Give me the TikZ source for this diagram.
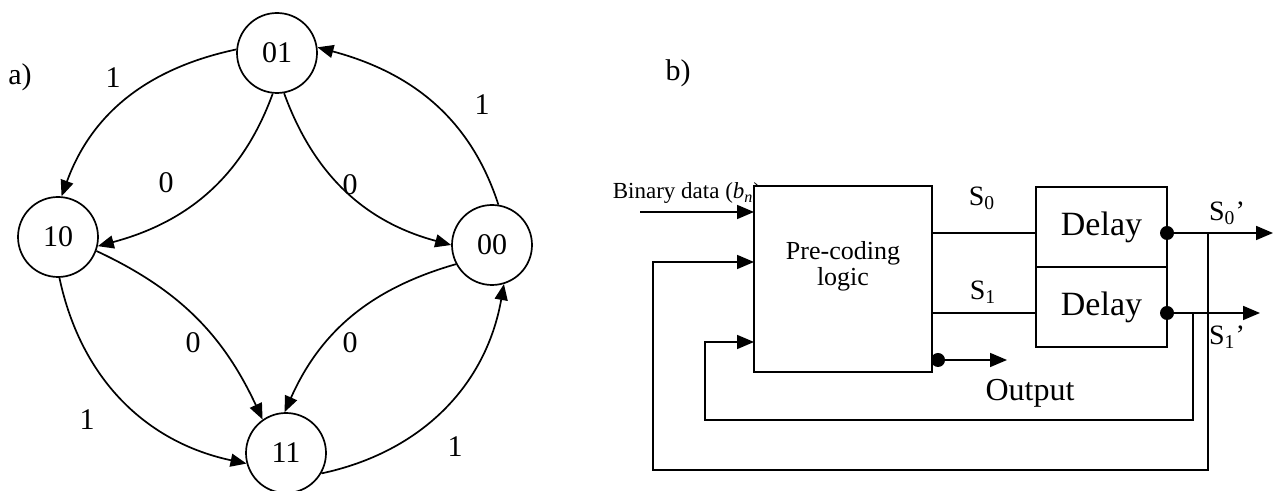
\documentclass[tikz,border=0pt]{standalone}
\usepackage{fontspec}
\setmainfont{Liberation Serif}
\usepackage{tikz}
\usetikzlibrary{arrows.meta, positioning, calc}

\begin{document}
\begin{tikzpicture}[x=0.5pt, y=0.5pt, line width=0.85pt,
  state/.style={draw, circle, minimum size=40pt, inner sep=0pt, font=\fontsize{15}{18}\selectfont},
  edgelbl/.style={font=\fontsize{15}{18}\selectfont},
  tri/.style={-{Triangle[length=8pt, width=6.5pt]}},
  bigtri/.style={-{Triangle[length=8.5pt, width=7pt]}},
  block/.style={draw, fill=white, outer sep=0pt, inner sep=0pt},
  sig/.style={font=\fontsize{14}{16}\selectfont}]
  \useasboundingbox (0,0) rectangle (1278,491);

  % a) state diagram
  \node[edgelbl] (alabel) at (20,414) {a)};
  \node[state] (s01) at (277,438) {01};
  \node[state] (s10) at (58,254) {10};
  \node[state] (s00) at (492,246) {00};
  \node[state] (s11) at (286,38) {11};

  \draw[tri] (s01.175) to[out=192, in=70] (s10.85);
  \draw[tri] (s01.264) to[out=250, in=15] (s10.347);
  \draw[tri] (s01.280) to[out=290, in=165] (s00.180);
  \draw[tri] (s00.81) to[out=108, in=-15] (s01.8);
  \draw[tri] (s10.340) to[out=-25, in=115] (s11.125);
  \draw[tri] (s00.208) to[out=196, in=66] (s11.92);
  \draw[tri] (s10.272) to[out=282, in=168] (s11.195);
  \draw[tri] (s11.330) to[out=12, in=260] (s00.287);

  \node[edgelbl] (e1) at (113,413) {1};
  \node[edgelbl] (e2) at (166,308) {0};
  \node[edgelbl] (e3) at (350,306) {0};
  \node[edgelbl] (e4) at (482,386) {1};
  \node[edgelbl] (e5) at (193,148) {0};
  \node[edgelbl] (e6) at (350,148) {0};
  \node[edgelbl] (e7) at (87,71) {1};
  \node[edgelbl] (e8) at (455,44) {1};

  % b) block diagram
  \node[edgelbl] (blabel) at (678,418) {b)};
  \node[font=\fontsize{11.5}{13}\selectfont, anchor=west, inner sep=0pt] (bin) at (612,298) {Binary data (\textit{b}\textsubscript{\textit{n}})};
  \node[block, minimum width=89pt, minimum height=93pt] (precode) at (843,212) {};
  \node[font=\fontsize{13}{13}\selectfont, align=center] (precodetxt) at (843,225) {Pre-coding\\logic};

  \node[block, minimum width=65.5pt, minimum height=40pt, font=\fontsize{17}{20}\selectfont] (delay0) at (1101.5,264) {Delay};
  \node[block, minimum width=65.5pt, minimum height=40pt, font=\fontsize{17}{20}\selectfont, below=0pt of delay0] (delay1) {Delay};

  \coordinate (d0out) at ([yshift=-3pt]delay0.east);
  \coordinate (d1out) at ([yshift=-3pt]delay1.east);
  \coordinate (bintail) at (640,279);
  \coordinate (s0tip) at (1273,258);
  \coordinate (s1tip) at (1260,178);
  \coordinate (fb0) at (1208,21);
  \coordinate (fb0l) at (653,229);
  \coordinate (fb1) at (1193,71);
  \coordinate (fb1l) at (705,149);
  \coordinate (outdot) at (938,131);
  \coordinate (outtip) at (1007,131);

  \draw[bigtri] (bintail) -- (precode.west |- bintail);
  \draw (precode.east |- d0out) -- (delay0.west |- d0out);
  \draw (precode.east |- d1out) -- (delay1.west |- d1out);

  % outputs and feedback
  \draw[bigtri] (d0out) -- (s0tip);
  \draw[bigtri] (d1out) -- (s1tip);
  \draw[bigtri] (d0out -| fb0) -- (fb0) -| (fb0l) -- (precode.west |- fb0l);
  \draw[bigtri] (d1out -| fb1) -- (fb1) -| (fb1l) -- (precode.west |- fb1l);
  \draw[bigtri] (outdot) -- (outtip);
  \fill (d0out) circle (3.5pt);
  \fill (d1out) circle (3.5pt);
  \fill (outdot) circle (3.5pt);

  \node[sig] (s0lbl) at (982,293) {S\textsubscript{0}};
  \node[sig] (s1lbl) at (983,199) {S\textsubscript{1}};
  \node[sig] (s0plbl) at (1227,278) {S\textsubscript{0}’};
  \node[sig] (s1plbl) at (1227,154) {S\textsubscript{1}’};
  \node[font=\fontsize{16}{19}\selectfont] (outlbl) at (1030,98) {Output};
\end{tikzpicture}
\end{document}
